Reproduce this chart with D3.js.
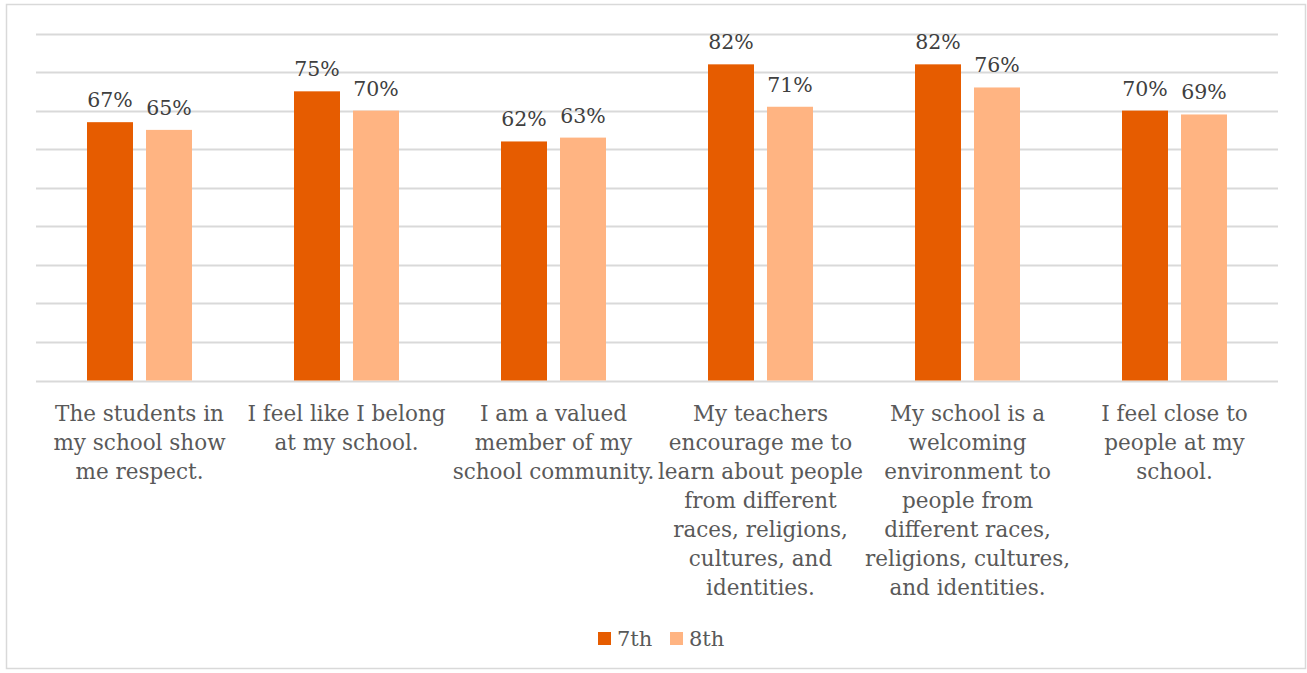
<!DOCTYPE html>
<html>
<head>
<meta charset="utf-8">
<script src="https://cdn.jsdelivr.net/npm/d3@7"></script>
<style>
  body { margin: 0; background: #fff; }
  text { font-family: "DejaVu Serif", serif; }
</style>
</head>
<body>
<script>
var w = 1307
var h = 673

// data
var categories = [
  ["The students in", "my school show", "me respect."],
  ["I feel like I belong", "at my school."],
  ["I am a valued", "member of my", "school community."],
  ["My teachers", "encourage me to", "learn about people", "from different", "races, religions,", "cultures, and", "identities."],
  ["My school is a", "welcoming", "environment to", "people from", "different races,", "religions, cultures,", "and identities."],
  ["I feel close to", "people at my", "school."]
]
var seriesNames = ["7th", "8th"]
var seventh = [0.67, 0.75, 0.62, 0.82, 0.82, 0.70]
var eighth = [0.65, 0.70, 0.63, 0.71, 0.76, 0.69]
var yTicks = [0, 0.1, 0.2, 0.3, 0.4, 0.5, 0.6, 0.7, 0.8, 0.9]

var colors = ["#E65C00", "#FFB482"]

var margin = {left: 36, right: 29, top: 33.5, bottom: 292.5}

var svg = d3.select("body")
  .append("svg")
  .attr("width", w)
  .attr("height", h)

svg.append("rect")
  .attr("x", 6.5).attr("y", 4.5)
  .attr("width", 1299).attr("height", 664)
  .attr("fill", "#fff")
  .attr("stroke", "#D9D9D9")
  .attr("stroke-width", 1.5)

var x = d3.scaleBand()
  .domain(d3.range(categories.length))
  .range([margin.left, w - margin.right])

var y = d3.scaleLinear()
  .domain([0, 0.9])
  .range([h - margin.bottom, margin.top])

// gridlines
svg.append("g")
  .selectAll("line")
  .data(yTicks)
  .enter().append("line")
  .attr("x1", margin.left)
  .attr("x2", w - margin.right)
  .attr("y1", d => Math.round(y(d)) + 0.5)
  .attr("y2", d => Math.round(y(d)) + 0.5)
  .attr("stroke", "#D9D9D9")
  .attr("stroke-width", 2)

var barW = 46, gap = 13
var series = [seventh, eighth]

series.forEach(function(vals, s) {
  var off = s == 0 ? -gap / 2 - barW : gap / 2
  var g = svg.append("g")
  g.selectAll("rect")
    .data(vals)
    .enter().append("rect")
    .attr("x", (d, i) => x(i) + x.bandwidth() / 2 + off)
    .attr("y", d => y(d))
    .attr("width", barW)
    .attr("height", d => y(0) - y(d))
    .attr("fill", colors[s])

  g.selectAll("text")
    .data(vals)
    .enter().append("text")
    .attr("x", (d, i) => x(i) + x.bandwidth() / 2 + off + barW / 2)
    .attr("y", d => y(d) - 15)
    .attr("text-anchor", "middle")
    .attr("font-size", 20.5)
    .attr("fill", "#404040")
    .text(d => d3.format(".0%")(d))
})

// category labels
var lab = svg.append("g")
  .selectAll("text")
  .data(categories)
  .enter().append("text")
  .attr("text-anchor", "middle")
  .attr("font-size", 21.5)
  .attr("fill", "#595959")
  .attr("transform", (d, i) => "translate(" + (x(i) + x.bandwidth() / 2) + "," + (y(0) + 40) + ")")

lab.selectAll("tspan")
  .data(d => d)
  .enter().append("tspan")
  .attr("x", 0)
  .attr("y", (d, i) => i * 29)
  .text(d => d)

// legend
var leg = svg.append("g")
  .attr("transform", "translate(598,632)")

var items = leg.selectAll("g")
  .data(seriesNames)
  .enter().append("g")
  .attr("transform", (d, i) => "translate(" + (i * 72) + ",0)")

items.append("rect")
  .attr("width", 13).attr("height", 13)
  .attr("fill", (d, i) => colors[i])

items.append("text")
  .attr("x", 19)
  .attr("y", 14)
  .attr("font-size", 21)
  .attr("fill", "#595959")
  .text(d => d)
</script>
</body>
</html>
